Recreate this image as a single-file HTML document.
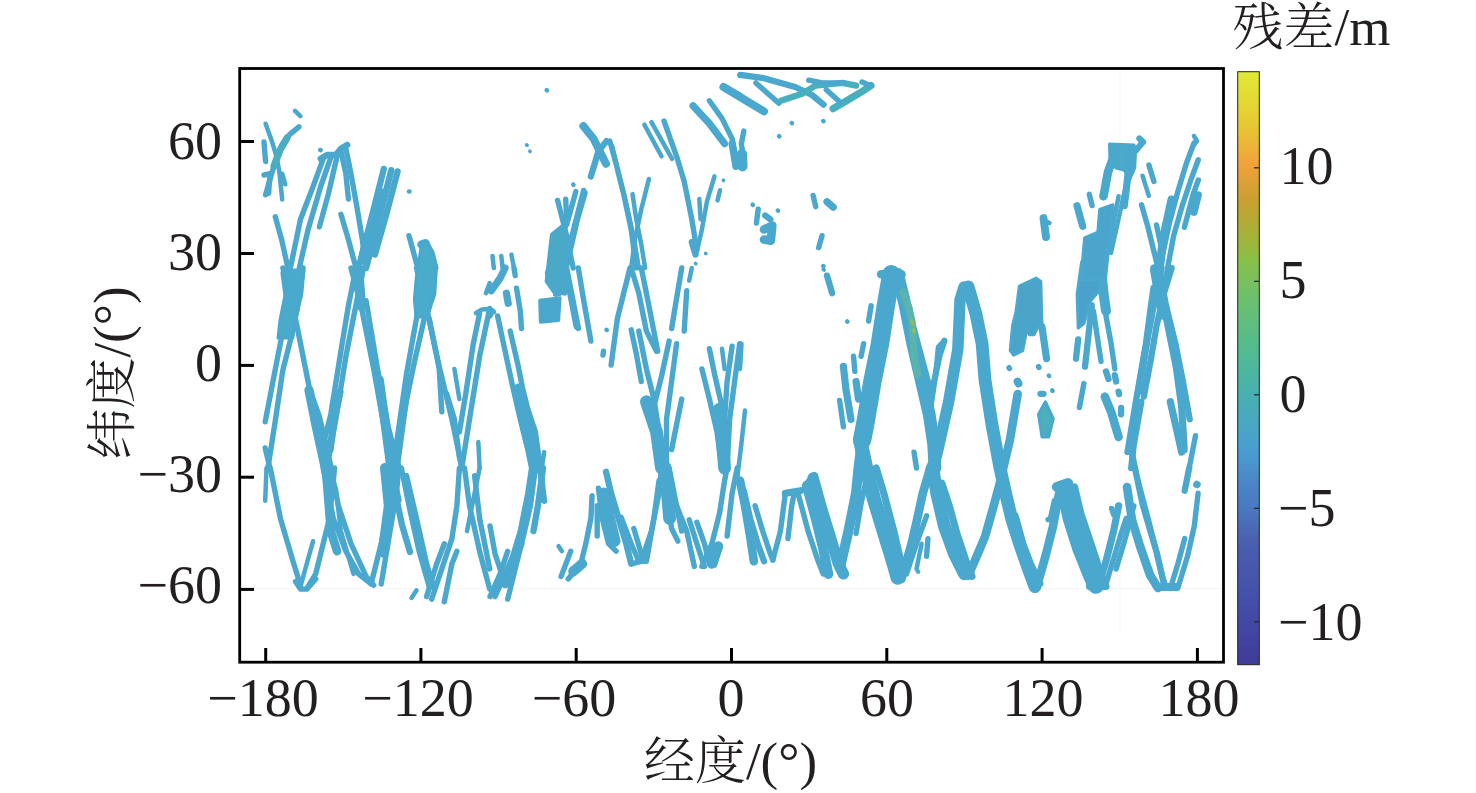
<!DOCTYPE html>
<html><head><meta charset="utf-8">
<style>
html,body{margin:0;padding:0;background:#fff;width:1476px;height:793px;overflow:hidden}
svg{position:absolute;left:0;top:0}
.n{font-family:"Liberation Serif","Noto Serif CJK SC",serif;font-size:54px;fill:#231f20}
.t{font-family:"Liberation Serif","Noto Serif CJK SC",serif;font-size:53px;fill:#231f20}
.k{font-family:"Noto Serif CJK SC",serif;font-size:51px;font-weight:300}
</style></head><body>
<svg width="1476" height="793" viewBox="0 0 1476 793">
<defs>
<linearGradient id="cb" x1="0" y1="1" x2="0" y2="0">
<stop offset="0" stop-color="#3f3c98"/>
<stop offset="0.11" stop-color="#4450a8"/>
<stop offset="0.211" stop-color="#4a60b0"/>
<stop offset="0.262" stop-color="#4a78c0"/>
<stop offset="0.312" stop-color="#4a88c8"/>
<stop offset="0.346" stop-color="#4a98d0"/>
<stop offset="0.371" stop-color="#4aa0d0"/>
<stop offset="0.413" stop-color="#48a8c0"/>
<stop offset="0.455" stop-color="#48b0b0"/>
<stop offset="0.497" stop-color="#4cb8a0"/>
<stop offset="0.548" stop-color="#58bc88"/>
<stop offset="0.615" stop-color="#6cc070"/>
<stop offset="0.683" stop-color="#88c048"/>
<stop offset="0.716" stop-color="#a0b43a"/>
<stop offset="0.784" stop-color="#c8a030"/>
<stop offset="0.843" stop-color="#f0a23c"/>
<stop offset="0.918" stop-color="#e6cc32"/>
<stop offset="1" stop-color="#e0ea35"/>
</linearGradient>
</defs>
<line x1="241" y1="588.5" x2="1222" y2="588.5" stroke="#f3f5f9" stroke-width="1"/>
<line x1="1120" y1="70" x2="1120" y2="632" stroke="#f5f7fa" stroke-width="1"/>
<!-- tracks -->
<g id="tracks" fill="none" stroke="#4aa7cd" stroke-width="6" stroke-linecap="round" stroke-linejoin="round">
<polyline points="290.4,268.0 300.5,219.3 313.1,186.5 323.2,158.8" stroke-width="5.4"/>
<polyline points="299.3,268.0 308.1,229.4 320.7,186.5 330.8,157.5" stroke-width="5.4"/>
<polyline points="319.4,226.9 328.3,194.1 337.1,156.3" stroke-width="5.4"/>
<polyline points="320.7,158.8 327.0,155.0 335.8,155.0 340.9,148.7 347.2,144.9" stroke-width="6.3"/>
<polyline points="340.9,151.2 345.9,173.9 348.4,199.1" stroke-width="5.4"/>
<polyline points="345.9,148.7 351.0,173.9 357.3,209.2 362.3,239.5 366.1,268.0" stroke-width="5.4"/>
<polyline points="340.9,214.3 348.4,239.5 356.0,268.0" stroke-width="5.4"/>
<polyline points="275.3,216.8 281.6,239.5 287.9,268.0" stroke-width="5.4"/>
<polyline points="358.5,268.0 371.1,219.3 383.8,168.9" stroke-width="6.3"/>
<polyline points="366.1,268.0 377.5,224.4 391.3,170.1" stroke-width="6.3"/>
<polyline points="374.9,254.6 386.3,214.3 397.6,171.4" stroke-width="6.3"/>
<polyline points="364.8,254.6 381.2,194.1" stroke-width="11.4"/>
<polyline points="409.0,191.6 409.5,191.6" stroke-width="4.5"/>
<polyline points="409.0,235.7 417.8,268.0" stroke-width="5.4"/>
<polyline points="421.6,244.5 425.4,243.3 434.2,268.0" stroke-width="8.6"/>
<polyline points="320.2,150.0 320.7,150.2" stroke-width="4.5"/>
<polyline points="301.8,268.0 290.4,293.2 277.8,356.3 265.2,421.8" stroke-width="5.4"/>
<polyline points="282.9,268.0 290.4,293.2 298.0,331.1 310.6,394.1 325.8,464.7" stroke-width="5.4"/>
<polyline points="363.6,268.0 354.8,310.9 345.9,356.3 335.8,419.3 327.0,467.2" stroke-width="5.4"/>
<polyline points="356.0,268.0 348.4,305.8 340.9,351.2 330.8,414.3 323.2,444.5" stroke-width="5.4"/>
<polyline points="351.0,268.0 361.1,305.8 373.7,368.9 391.3,467.2" stroke-width="5.4"/>
<polyline points="366.1,300.8 377.5,368.9 388.8,429.4 398.9,467.2" stroke-width="5.4"/>
<polyline points="434.2,268.0 425.4,313.4 414.0,363.8 401.4,424.4 393.8,467.2" stroke-width="5.4"/>
<polyline points="425.4,268.0 416.5,318.4 406.5,373.9 396.4,444.5" stroke-width="5.4"/>
<polyline points="416.5,268.0 426.6,308.4 439.2,366.4 451.9,419.3 461.9,467.2" stroke-width="5.4"/>
<polyline points="429.2,318.4 439.2,368.9 441.8,411.8" stroke-width="5.4"/>
<polyline points="489.7,308.4 479.6,356.3 469.5,419.3 461.9,467.2" stroke-width="5.4"/>
<polyline points="479.6,313.4 473.3,343.7 465.7,394.1 459.4,431.9" stroke-width="5.4"/>
<polyline points="454.4,368.9 459.4,399.1" stroke-width="4.5"/>
<polyline points="446.8,394.1 454.4,419.3 459.4,457.2 461.9,468.0" stroke-width="5.4"/>
<polyline points="478.3,442.0 479.6,468.0" stroke-width="4.5"/>
<polyline points="489.7,283.1 485.9,293.2" stroke-width="4.5"/>
<polyline points="285.4,273.0 291.7,318.4" stroke-width="10.0"/>
<polyline points="358.5,273.0 361.1,305.8" stroke-width="10.0"/>
<polyline points="422.8,273.0 424.1,313.4" stroke-width="10.0"/>
<polyline points="270.3,468.0 280.4,518.4 293.0,561.3 299.3,581.5 300.5,586.5" stroke-width="5.4"/>
<polyline points="266.5,468.0 265.2,500.8" stroke-width="4.5"/>
<polyline points="295.5,581.5 300.5,589.1 306.8,589.1 315.7,579.0" stroke-width="5.4"/>
<polyline points="300.5,586.5 308.1,558.8 313.1,541.1" stroke-width="4.5"/>
<polyline points="308.1,586.5 315.7,573.9 323.2,543.7 329.5,518.4 334.6,468.0" stroke-width="5.4"/>
<polyline points="323.2,468.0 333.3,518.4 345.9,551.2 358.5,573.9 371.1,584.0" stroke-width="5.4"/>
<polyline points="330.8,468.0 338.4,505.8 351.0,543.7 366.1,576.4 373.7,585.3" stroke-width="5.4"/>
<polyline points="335.8,488.2 340.9,531.1 353.5,573.9" stroke-width="4.5"/>
<polyline points="325.8,468.0 330.8,531.1 337.1,551.2" stroke-width="8.6"/>
<polyline points="371.1,584.0 381.2,543.7 388.8,505.8 391.3,468.0" stroke-width="5.4"/>
<polyline points="381.2,584.0 388.8,538.6 396.4,493.2 398.9,468.0" stroke-width="5.4"/>
<polyline points="385.0,468.0 388.8,505.8 383.8,543.7" stroke-width="10.0"/>
<polyline points="401.4,468.0 409.0,505.8 419.1,551.2 429.2,586.5" stroke-width="5.4"/>
<polyline points="406.5,475.6 416.5,518.4 426.6,563.8 434.2,589.1" stroke-width="5.4"/>
<polyline points="426.6,596.6 436.7,563.8 444.3,543.7" stroke-width="5.4"/>
<polyline points="431.7,599.1 441.8,568.9 451.9,538.6 456.9,505.8 459.4,468.0" stroke-width="5.4"/>
<polyline points="444.3,601.7 451.9,563.8 456.9,551.2" stroke-width="5.4"/>
<polyline points="411.5,597.9 416.5,590.3" stroke-width="4.5"/>
<polyline points="464.5,468.0 469.5,505.8 479.6,551.2 489.7,589.1" stroke-width="5.4"/>
<polyline points="474.6,475.6 479.6,518.4 489.7,568.9" stroke-width="5.4"/>
<polyline points="467.0,531.1 474.6,493.2 479.6,468.0" stroke-width="4.5"/>
<polyline points="546.7,90.2 547.0,90.4" stroke-width="4.5"/>
<polyline points="526.6,144.9 527.1,145.2" stroke-width="3.6"/>
<polyline points="529.8,151.2 530.1,151.5" stroke-width="3.6"/>
<polyline points="583.3,126.0 593.4,138.6 601.0,153.8 606.0,163.8" stroke-width="7.9"/>
<polyline points="606.5,141.1 598.4,151.2 590.9,176.4" stroke-width="6.3"/>
<polyline points="609.8,141.1 616.1,163.8 623.7,194.1 631.2,229.4 636.3,268.0" stroke-width="5.4"/>
<polyline points="612.3,146.2 618.6,173.9 627.5,209.2 635.0,244.5 638.8,268.0" stroke-width="4.5"/>
<polyline points="648.9,179.0 641.3,209.2 635.0,239.5 631.2,268.0" stroke-width="4.5"/>
<polyline points="632.5,194.1 636.3,219.3 641.3,244.5 645.1,268.0" stroke-width="4.5"/>
<polyline points="644.4,124.7 661.5,156.3" stroke-width="4.5"/>
<polyline points="651.4,122.2 672.1,158.8" stroke-width="4.5"/>
<polyline points="664.0,121.0 676.6,156.3 684.2,181.5 691.8,219.3 696.8,249.6" stroke-width="5.4"/>
<polyline points="693.0,105.8 709.4,123.5 724.6,143.7" stroke-width="7.2"/>
<polyline points="709.4,100.8 722.0,118.4 732.1,138.6 737.2,163.8" stroke-width="5.4"/>
<polyline points="724.6,86.9 739.9,95.7" stroke-width="6.3"/>
<polyline points="714.5,176.4 706.9,201.7 701.9,229.4 696.8,252.1" stroke-width="4.5"/>
<polyline points="699.3,199.1 700.6,219.3" stroke-width="4.5"/>
<polyline points="720.0,190.3 717.5,200.4" stroke-width="4.5"/>
<polyline points="723.3,180.2 723.5,180.5" stroke-width="3.6"/>
<polyline points="691.8,242.0 695.5,254.6" stroke-width="6.3"/>
<polyline points="695.5,263.5 695.8,263.7" stroke-width="3.6"/>
<polyline points="705.6,253.4 705.9,253.6" stroke-width="3.6"/>
<polyline points="557.6,200.4 565.7,231.9 573.2,268.0" stroke-width="5.4"/>
<polyline points="584.6,192.8 577.0,219.3 565.7,268.0" stroke-width="6.3"/>
<polyline points="575.8,191.6 568.2,219.3 558.1,244.5 553.1,268.0" stroke-width="5.4"/>
<polyline points="565.7,199.1 566.9,224.4" stroke-width="5.4"/>
<polyline points="573.2,184.5 573.5,184.8" stroke-width="4.5"/>
<polyline points="492.5,255.9 493.8,268.0" stroke-width="4.5"/>
<polyline points="501.3,255.9 502.6,268.0" stroke-width="4.5"/>
<polyline points="511.4,254.6 514.0,268.0" stroke-width="4.5"/>
<polyline points="739.2,76.1 739.4,76.3" stroke-width="3.6"/>
<polyline points="732.1,143.7 735.9,166.4" stroke-width="7.2"/>
<polyline points="491.3,290.7 500.1,278.1 505.1,268.0" stroke-width="7.2"/>
<polyline points="514.0,268.0 515.2,275.6" stroke-width="5.4"/>
<polyline points="516.5,288.2 520.3,310.9 521.5,328.5" stroke-width="5.4"/>
<polyline points="506.4,293.2 508.2,303.3" stroke-width="7.2"/>
<polyline points="490.0,315.9 492.5,310.9" stroke-width="5.4"/>
<polyline points="497.6,315.9 505.1,351.2 512.7,386.5 520.3,419.3 527.8,449.6 531.6,468.0" stroke-width="5.4"/>
<polyline points="510.2,331.1 517.7,363.8 522.8,389.1 527.8,409.2 535.4,431.9 540.4,468.0" stroke-width="5.4"/>
<polyline points="519.0,389.1 525.3,419.3 532.9,449.6 535.4,468.0" stroke-width="11.4"/>
<polyline points="544.2,452.1 541.7,468.0" stroke-width="4.5"/>
<polyline points="550.5,273.0 558.1,290.7" stroke-width="11.4"/>
<polygon points="539.7,300.3 560.1,297.8 558.6,320.5 540.4,322.2" stroke-width="3" fill="#4aa7cd"/>
<polyline points="565.7,268.0 570.7,293.2 577.0,326.0" stroke-width="7.2"/>
<polyline points="578.3,268.0 583.3,298.3 590.9,341.1" stroke-width="5.4"/>
<polyline points="573.2,308.4 578.3,328.5" stroke-width="5.4"/>
<polyline points="630.0,268.0 623.7,293.2 617.4,318.4 611.1,365.1" stroke-width="5.4"/>
<polyline points="606.5,329.8 606.8,330.0" stroke-width="4.5"/>
<polyline points="603.5,351.2 603.0,355.0" stroke-width="5.4"/>
<polyline points="631.2,268.0 638.8,293.2 646.4,331.1 656.5,351.2" stroke-width="5.4"/>
<polyline points="641.3,268.0 648.9,305.8 657.7,351.2" stroke-width="5.4"/>
<polyline points="631.2,329.8 636.3,353.8 641.3,381.5" stroke-width="5.4"/>
<polyline points="638.8,331.1 646.4,368.9 653.9,399.1 659.0,431.9 664.0,468.0" stroke-width="5.4"/>
<polyline points="646.4,401.7 656.5,431.9 661.5,468.0" stroke-width="12.8"/>
<polyline points="681.7,268.0 676.6,298.3 671.6,328.5" stroke-width="5.4"/>
<polyline points="691.8,268.0 689.2,280.6" stroke-width="4.5"/>
<polyline points="686.7,290.7 684.2,331.1" stroke-width="5.4"/>
<polyline points="669.1,341.1 661.5,376.4 653.9,406.7" stroke-width="5.4"/>
<polyline points="681.7,399.1 676.6,424.4 671.6,449.6" stroke-width="5.4"/>
<polyline points="676.6,343.7 671.6,381.5 666.5,419.3 666.5,468.0" stroke-width="5.4"/>
<polyline points="701.9,368.9 709.4,399.1 717.0,431.9 722.0,468.0" stroke-width="5.4"/>
<polyline points="709.4,348.7 714.5,373.9 722.0,406.7" stroke-width="5.4"/>
<polyline points="722.0,348.7 724.6,368.9" stroke-width="4.5"/>
<polyline points="732.1,346.2 727.1,381.5 724.6,419.3" stroke-width="5.4"/>
<polyline points="739.7,343.7 734.6,381.5 729.6,419.3 727.1,468.0" stroke-width="5.4"/>
<polyline points="719.5,409.2 724.6,468.0" stroke-width="12.8"/>
<polyline points="490.0,526.0 495.0,553.8 500.1,568.9 503.9,584.0" stroke-width="5.4"/>
<polyline points="490.0,596.6 500.1,573.9 507.7,551.2" stroke-width="5.4"/>
<polyline points="495.0,596.6 505.1,573.9 512.7,556.3 520.3,531.1 527.8,493.2 531.6,468.0" stroke-width="5.4"/>
<polyline points="507.7,599.1 515.2,568.9 522.8,538.6 530.4,505.8 535.4,468.0" stroke-width="5.4"/>
<polyline points="505.1,584.0 515.2,556.3 520.3,543.7" stroke-width="8.6"/>
<polyline points="540.4,468.0 543.0,493.2 544.2,500.8" stroke-width="6.3"/>
<polyline points="533.4,531.1 537.9,505.8 543.0,468.0" stroke-width="6.3"/>
<polyline points="558.6,546.2 561.9,551.2" stroke-width="4.5"/>
<polyline points="561.1,576.4 570.7,551.2" stroke-width="5.4"/>
<polyline points="568.2,579.0 580.8,563.8 585.8,543.7 590.9,518.4 592.1,495.7" stroke-width="5.4"/>
<polyline points="573.2,571.4 582.1,563.8" stroke-width="10.0"/>
<polyline points="606.0,471.8 611.1,493.2 618.6,518.4 626.2,543.7 631.2,563.8" stroke-width="6.3"/>
<polyline points="598.4,488.2 602.2,518.4 608.5,543.7 616.1,551.2" stroke-width="5.4"/>
<polyline points="597.2,505.8 597.2,536.1" stroke-width="5.4"/>
<polyline points="621.1,517.2 631.2,543.7 638.8,561.3" stroke-width="5.4"/>
<polyline points="633.8,528.5 641.3,553.8 643.8,561.3" stroke-width="5.4"/>
<polyline points="603.5,493.2 614.8,541.1" stroke-width="11.4"/>
<polyline points="631.2,563.8 641.3,561.3 651.4,531.1 659.0,493.2 661.5,468.0" stroke-width="5.4"/>
<polyline points="646.4,561.3 653.9,518.4 659.0,480.6" stroke-width="5.4"/>
<polyline points="661.5,468.0 666.5,493.2 671.6,528.5 677.9,541.1" stroke-width="5.4"/>
<polyline points="669.1,468.0 674.1,493.2 681.7,531.1" stroke-width="5.4"/>
<polyline points="665.3,468.0 669.6,518.4" stroke-width="12.8"/>
<polyline points="676.6,505.8 686.7,531.1 694.3,566.4" stroke-width="5.4"/>
<polyline points="689.2,519.7 699.3,551.2 704.4,566.4" stroke-width="5.4"/>
<polyline points="696.8,522.2 704.4,543.7 709.4,563.8" stroke-width="5.4"/>
<polyline points="701.9,566.4 711.9,543.7 719.5,513.4 724.6,480.6 727.1,468.0" stroke-width="5.4"/>
<polyline points="714.5,565.1 719.5,548.7" stroke-width="5.4"/>
<polyline points="727.1,536.1 732.1,493.2 737.2,468.0" stroke-width="5.4"/>
<polyline points="711.9,563.8 718.2,546.2" stroke-width="10.0"/>
<polyline points="791.7,123.0 792.0,123.2" stroke-width="4.5"/>
<polyline points="823.2,121.0 823.5,121.2" stroke-width="4.5"/>
<polyline points="779.1,136.1 779.3,136.3" stroke-width="4.5"/>
<polyline points="743.8,131.1 741.3,143.7 742.5,151.2" stroke-width="5.4"/>
<polyline points="742.0,153.8 742.5,166.4" stroke-width="10.0"/>
<polyline points="752.6,204.7 752.9,204.9" stroke-width="4.5"/>
<polyline points="777.8,210.5 778.1,210.7" stroke-width="4.5"/>
<polyline points="758.2,209.2 756.4,223.1" stroke-width="5.4"/>
<polyline points="765.2,215.5 770.3,219.3" stroke-width="6.3"/>
<polyline points="764.0,229.4 772.3,225.6 770.8,240.8 764.0,239.5" stroke-width="8.6"/>
<polyline points="813.1,195.4 815.7,206.7" stroke-width="5.4"/>
<polyline points="827.0,201.7 833.3,207.2" stroke-width="7.2"/>
<polyline points="822.0,235.7 818.7,247.6" stroke-width="5.4"/>
<polyline points="823.2,266.0 823.5,266.2" stroke-width="4.5"/>
<polyline points="823.2,269.3 824.2,270.0" stroke-width="3.6"/>
<polyline points="827.0,275.6 832.1,293.2" stroke-width="6.3"/>
<polyline points="847.2,321.5 847.4,321.7" stroke-width="4.5"/>
<polyline points="741.5,343.7 740.0,368.9" stroke-width="4.5"/>
<polyline points="745.0,410.5 741.3,444.5 737.0,479.9" stroke-width="4.5"/>
<polyline points="862.1,440.0 866.1,419.3 872.4,381.5 880.0,343.7 885.8,305.8 891.3,274.3" stroke-width="18.4"/>
<polyline points="881.2,274.3 901.4,274.3" stroke-width="8.6"/>
<polyline points="897.6,274.3 905.2,305.8 912.8,343.7 921.6,381.5 929.2,414.3 933.7,444.5 935.0,468.0" stroke-width="12.8"/>
<polyline points="901.4,280.6 911.5,318.4 921.6,356.3 931.7,394.1" stroke-width="5.4"/>
<polyline points="871.1,305.8 868.6,321.0" stroke-width="5.4"/>
<polyline points="863.6,343.7 861.1,356.3" stroke-width="5.4"/>
<polyline points="853.5,356.3 854.8,371.4" stroke-width="5.4"/>
<polyline points="843.4,366.4 845.9,389.1 851.0,419.3" stroke-width="7.2"/>
<polyline points="839.6,400.4 843.4,426.9" stroke-width="5.4"/>
<polyline points="856.0,381.5 858.5,399.1" stroke-width="7.2"/>
<polyline points="944.3,341.1 939.2,356.3 934.2,381.5 929.2,401.7" stroke-width="6.3"/>
<polyline points="914.0,452.1 916.5,468.0" stroke-width="5.4"/>
<polyline points="740.0,480.6 745.0,505.8 750.1,536.1 753.9,561.3" stroke-width="8.6"/>
<polyline points="743.8,490.7 750.1,518.4 757.7,543.7 764.0,561.3" stroke-width="6.3"/>
<polyline points="755.1,505.8 762.7,531.1 770.3,553.8 772.8,560.1" stroke-width="5.4"/>
<polyline points="772.8,560.1 780.4,531.1 785.4,493.2" stroke-width="5.4"/>
<polyline points="787.9,538.6 791.7,505.8 794.2,493.2" stroke-width="5.4"/>
<polyline points="785.4,493.2 800.5,490.7" stroke-width="7.2"/>
<polyline points="808.1,483.1 814.4,475.6" stroke-width="7.2"/>
<polyline points="806.8,485.7 815.7,518.4 823.2,548.7 828.3,573.9" stroke-width="10.0"/>
<polyline points="813.1,478.1 820.7,505.8 830.8,538.6 838.4,563.8 843.4,573.9" stroke-width="11.4"/>
<polyline points="798.0,493.2 808.1,531.1 818.2,561.3 823.2,573.9" stroke-width="5.4"/>
<polyline points="840.9,563.8 848.4,531.1 856.0,493.2 858.5,468.0 862.1,440.0" stroke-width="10.0"/>
<polyline points="856.0,533.6 861.1,503.3 866.1,480.6" stroke-width="5.4"/>
<polyline points="860.1,440.0 866.1,468.0 873.7,498.3 883.8,531.1 893.8,563.8 897.6,577.7" stroke-width="14.2"/>
<polyline points="876.2,468.0 883.8,493.2 893.8,531.1 901.4,563.8" stroke-width="7.2"/>
<polyline points="901.4,579.0 911.5,543.7 917.0,520.0 922.8,493.2 930.2,468.0" stroke-width="8.6"/>
<polyline points="906.5,573.9 916.5,543.7 926.6,515.9" stroke-width="5.4"/>
<polyline points="916.5,568.9 921.6,543.7" stroke-width="4.5"/>
<polyline points="926.6,556.3 927.9,538.6" stroke-width="5.4"/>
<polyline points="932.9,468.0 936.7,493.2 944.3,526.0 954.4,553.8 964.5,573.9" stroke-width="12.8"/>
<polyline points="941.8,483.1 949.3,505.8 956.9,533.6 967.0,563.8 972.0,576.4" stroke-width="7.2"/>
<polyline points="917.8,571.4 918.1,571.7" stroke-width="4.5"/>
<polyline points="1043.5,218.1 1046.0,237.0" stroke-width="7.9"/>
<polyline points="1048.5,222.4 1049.5,222.9" stroke-width="4.5"/>
<polyline points="1148.9,165.1 1153.9,181.5" stroke-width="5.4"/>
<polyline points="1101.0,268.0 1103.5,293.2 1106.0,310.9" stroke-width="10.0"/>
<polyline points="1093.4,310.9 1097.2,336.1 1101.0,361.3" stroke-width="5.4"/>
<polyline points="1106.0,315.9 1111.1,343.7 1114.8,368.9" stroke-width="5.4"/>
<polyline points="1106.0,371.4 1108.5,379.0" stroke-width="6.3"/>
<polyline points="1114.8,375.2 1116.1,381.5" stroke-width="6.3"/>
<polyline points="1118.6,391.6 1119.1,394.1" stroke-width="6.3"/>
<polyline points="1121.1,408.0 1121.1,414.3" stroke-width="6.3"/>
<polyline points="1104.8,396.6 1111.1,411.8 1118.6,437.0" stroke-width="8.6"/>
<polyline points="1127.5,452.1 1136.3,399.1 1143.8,356.3 1151.4,318.4 1156.5,288.2 1161.5,268.0" stroke-width="6.3"/>
<polyline points="1141.3,401.7 1133.8,444.5 1131.2,468.0" stroke-width="6.3"/>
<polyline points="1143.8,396.6 1151.4,356.3 1156.5,326.0 1164.0,293.2 1171.6,268.0" stroke-width="6.3"/>
<polyline points="1138.8,391.6 1146.4,343.7 1151.4,305.8 1153.9,288.2" stroke-width="7.2"/>
<polyline points="1153.9,268.0 1161.5,293.2 1169.1,331.1 1176.6,368.9 1181.7,406.7 1184.2,449.6" stroke-width="7.2"/>
<polyline points="1166.0,305.8 1175.4,343.7 1182.9,381.5 1189.7,419.3" stroke-width="6.3"/>
<polyline points="1156.5,270.5 1164.0,313.4" stroke-width="12.8"/>
<polyline points="1170.3,401.7 1176.6,429.4 1181.7,452.1" stroke-width="7.2"/>
<polyline points="1195.5,435.7 1189.2,468.0" stroke-width="5.4"/>
<polyline points="1015.2,515.9 1022.8,543.7 1030.4,563.8 1037.9,579.0" stroke-width="7.2"/>
<polyline points="1037.9,582.8 1045.5,556.3 1053.1,526.0 1058.1,498.3 1060.6,485.7" stroke-width="8.6"/>
<polyline points="1050.5,518.4 1054.3,500.8" stroke-width="5.4"/>
<polyline points="1048.0,519.7 1053.1,518.4" stroke-width="5.4"/>
<polyline points="1056.8,486.9 1068.2,483.1" stroke-width="10.0"/>
<polyline points="1064.4,488.2 1071.2,518.4 1080.8,548.7 1090.9,573.9 1095.9,585.3" stroke-width="17.0"/>
<polyline points="1074.5,486.9 1080.8,513.4 1090.9,543.7 1101.0,573.9 1106.0,586.5" stroke-width="7.2"/>
<polyline points="1098.4,586.5 1106.0,561.3 1113.6,531.1 1118.6,505.8" stroke-width="7.2"/>
<polyline points="1106.0,584.0 1113.6,558.8 1121.1,533.6 1126.2,518.4" stroke-width="5.4"/>
<polyline points="1111.6,508.4 1113.6,514.7" stroke-width="5.4"/>
<polyline points="1116.1,568.9 1123.7,543.7 1128.7,526.0 1133.8,505.8" stroke-width="5.4"/>
<polyline points="1170.3,588.6 1177.9,563.8 1184.7,538.6" stroke-width="5.4"/>
<polyline points="1177.9,587.8 1187.5,556.3 1194.3,526.0 1198.1,493.2" stroke-width="5.4"/>
<polyline points="1184.7,490.7 1189.2,468.0" stroke-width="6.3"/>
<polyline points="1196.8,484.4 1197.1,484.6" stroke-width="7.2"/>
<polyline points="1161.5,587.0 1176.6,587.0" stroke-width="7.9"/>
<polyline points="1033.4,583.5 1039.9,583.5" stroke-width="7.2"/>
<polyline points="1089.6,586.5 1104.8,586.5" stroke-width="7.2"/>
<polyline points="1194.0,136.0 1197.0,141.0 1194.0,145.0" stroke-width="4.5"/>
<polyline points="1194.0,143.0 1186.5,163.0 1178.0,191.0 1169.4,223.0 1163.0,253.0 1158.6,290.0" stroke-width="5.4"/>
<polyline points="1198.3,159.7 1190.8,180.0 1182.2,205.8 1173.6,235.9 1167.2,270.2 1164.0,290.0" stroke-width="5.4"/>
<polyline points="1198.3,180.0 1193.0,195.0 1184.4,227.3" stroke-width="5.4"/>
<polyline points="1198.3,195.0 1194.0,212.3" stroke-width="7.2"/>
<polyline points="1171.5,199.4 1163.0,238.0 1156.5,290.0" stroke-width="7.9"/>
<polyline points="1141.5,204.8 1148.0,227.3 1154.3,253.0 1158.6,270.2" stroke-width="5.4"/>
<polyline points="1156.5,225.0 1159.7,240.0 1163.0,253.0" stroke-width="5.4"/>
<polyline points="265.6,123.7 271.6,140.4 276.2,155.5 279.2,170.6 282.2,199.4" stroke-width="4.5"/>
<polyline points="298.9,126.8 289.8,134.3 282.2,144.9 276.2,160.0 271.6,173.7 265.6,194.8" stroke-width="5.4"/>
<polyline points="287.0,138.0 280.0,150.0 274.0,166.0" stroke-width="7.2" stroke="#4aaec0"/>
<polyline points="264.0,142.0 265.6,161.6" stroke-width="5.4"/>
<polyline points="264.0,175.0 270.0,173.7 268.6,193.3" stroke-width="5.4"/>
<polyline points="282.2,173.7 285.3,184.3" stroke-width="4.5"/>
<polyline points="295.0,110.9 300.4,116.2" stroke-width="4.5"/>
<polyline points="723.4,87.0 764.0,111.4" stroke-width="7.9"/>
<polyline points="740.3,74.8 764.0,78.2 795.2,87.0 812.0,95.0 823.6,104.6" stroke-width="6.3"/>
<polyline points="755.9,82.9 778.9,103.2" stroke-width="5.4"/>
<polyline points="781.6,100.5 802.0,93.7 815.5,85.6 842.6,82.9 856.2,85.6" stroke-width="6.3" stroke="#48b0bc"/>
<polyline points="808.7,80.2 822.3,82.9 844.0,82.9" stroke-width="5.4"/>
<polyline points="833.1,108.7 849.4,99.2 862.9,91.0 871.0,85.6" stroke-width="7.2" stroke="#48b0bc"/>
<polyline points="862.0,82.0 871.0,86.0" stroke-width="5.4"/>
<polyline points="826.3,89.7 839.9,101.9" stroke-width="5.4"/>
<polygon points="551.4,234.3 562.1,225.7 567.5,240.7 565.4,294.3 553.6,292.1 546.1,281.4" stroke-width="3" fill="#4aaac6"/>
<polyline points="583.6,190.4 573.0,232.0 564.0,262.0 555.7,294.3" stroke-width="5.4"/>
<polyline points="1131.6,452.0 1142.7,504.7 1156.5,551.8 1164.8,587.9" stroke-width="6.3"/>
<polyline points="1137.0,477.0 1148.0,518.0 1162.0,574.0 1166.0,588.0" stroke-width="5.4"/>
<polyline points="1127.0,487.0 1132.0,520.0 1140.0,546.0 1150.0,575.0 1158.0,588.0" stroke-width="8.6"/>
<polygon points="1019.3,286.1 1036.3,278.1 1040.8,281.5 1042.0,323.5 1037.4,328.0 1034.0,334.8 1029.5,334.8 1027.2,328.0 1022.7,350.7 1013.6,355.2 1010.2,350.7 1012.5,325.8 1015.9,312.2" stroke-width="3" fill="#4aa4c8"/>
<polyline points="1042.0,326.9 1046.5,358.6" stroke-width="7.2"/>
<polyline points="1009.0,367.7 1009.5,368.5" stroke-width="5.4"/>
<polyline points="1017.5,381.5 1018.5,383.5" stroke-width="7.9"/>
<polyline points="1038.5,366.6 1039.0,367.5" stroke-width="5.4"/>
<polyline points="1048.8,375.6 1049.2,376.0" stroke-width="4.5"/>
<polyline points="1052.2,390.4 1052.6,391.0" stroke-width="4.5"/>
<polyline points="1040.5,393.8 1043.5,393.8" stroke-width="6.3"/>
<polygon points="1038.5,414.2 1045.4,401.7 1053.3,418.7 1048.8,436.9 1042.0,436.9" stroke-width="3" fill="#4cb0bc"/>
<polygon points="1081.6,262.0 1100.0,262.0 1100.0,289.5 1090.7,300.8 1083.9,323.5 1078.2,328.0 1077.1,294.0" stroke-width="3" fill="#4aa2cc"/>
<polyline points="1078.2,339.4 1076.0,358.6" stroke-width="6.3"/>
<polyline points="1091.8,305.4 1085.0,366.6" stroke-width="6.3"/>
<polyline points="1083.9,383.6 1079.4,407.4" stroke-width="5.4"/>
<polygon points="1109.5,144.0 1134.0,145.0 1135.6,150.8 1134.7,167.8 1130.0,179.0 1124.0,170.0 1116.0,168.0 1110.0,160.0" stroke-width="3" fill="#4aaac8"/>
<polyline points="1139.4,138.5 1143.0,142.0 1135.6,150.8" stroke-width="6.3"/>
<polyline points="1116.0,150.0 1108.0,172.0 1103.5,196.2" stroke-width="8.6"/>
<polyline points="1130.0,150.0 1128.0,175.0 1124.3,205.6" stroke-width="7.2"/>
<polyline points="1142.5,175.7 1148.8,195.8" stroke-width="4.5"/>
<polygon points="1080.8,280.0 1084.6,237.8 1097.8,232.1 1099.7,209.4 1112.9,204.7 1109.1,243.4 1105.4,280.0" stroke-width="3" fill="#4aa4cc"/>
<polyline points="1118.6,196.2 1105.4,262.3" stroke-width="4.5"/>
<polyline points="1124.3,192.4 1111.0,252.9" stroke-width="4.5"/>
<polyline points="1089.3,194.3 1092.1,205.6" stroke-width="5.4"/>
<polyline points="1077.0,205.6 1082.7,226.4" stroke-width="7.2"/>
<polyline points="964.0,287.0 960.0,300.0 957.8,349.5 948.5,402.5 936.6,455.4 931.0,470.0" stroke-width="11.4"/>
<polyline points="944.6,340.0 938.0,346.8 934.0,389.0 930.0,415.7" stroke-width="4.5"/>
<polyline points="476.0,313.0 482.0,309.5 489.0,309.0 494.0,312.0" stroke-width="4.5"/>
<polyline points="903.0,292.0 909.0,308.0 912.0,322.0 913.0,340.0 914.0,355.0 918.0,375.0" stroke-width="7.2" stroke="#58b4ac"/>
<polyline points="912.0,321.0 913.0,324.0" stroke-width="3.6" stroke="#90bc60"/>
<polyline points="913.5,330.0 914.0,332.0" stroke-width="3.6" stroke="#90bc60"/>
<polyline points="303.0,268.0 297.0,310.0 290.3,340.6 282.7,370.9 275.2,421.3 267.6,470.0" stroke-width="5.4"/>
<polyline points="313.0,398.6 319.3,416.3 325.0,440.0 331.0,467.0" stroke-width="5.4"/>
<polygon points="286.0,270.0 304.0,270.0 301.7,295.0 295.4,320.0 292.8,338.0 278.0,338.0 280.0,320.0 285.0,295.0" stroke-width="3" fill="#4aaacb"/>
<polygon points="421.5,243.9 427.7,243.0 433.0,251.8 436.5,266.0 434.8,294.2 431.2,304.8 427.7,317.0 416.0,317.0 414.4,299.5 416.2,278.3 419.8,255.3" stroke-width="3" fill="#4aaccb"/>
<polyline points="309.0,390.0 316.0,425.0 324.0,462.0 328.0,480.0" stroke-width="9.3"/>
<polyline points="340.0,392.0 334.0,420.0 330.0,450.0" stroke-width="7.2"/>
<polyline points="379.3,380.0 386.0,430.0 393.0,482.3 397.0,500.0" stroke-width="9.3"/>
<polyline points="393.0,482.3 402.0,525.0 410.0,552.0" stroke-width="6.3"/>
<polyline points="407.7,382.0 401.0,430.0 394.0,482.3 390.0,505.0" stroke-width="7.9"/>
<polyline points="394.0,482.3 388.0,525.0 383.0,555.0" stroke-width="5.4"/>
<polyline points="265.2,448.0 268.0,460.0 270.3,470.0" stroke-width="5.4"/>
<polyline points="968.2,286.9 975.8,313.4 982.1,343.7 985.0,380.0 992.0,425.0 1000.0,468.0 1006.0,495.0 1012.0,520.0 1020.0,545.0 1028.0,568.0 1035.0,586.7" stroke-width="12.8"/>
<polyline points="1017.7,394.0 1010.0,439.4 1004.0,465.0 998.9,486.7 992.0,512.0 985.0,536.7 976.0,558.0 968.3,575.6" stroke-width="8.6"/>
</g>
<!-- axes -->
<rect x="239.7" y="68.5" width="983.8" height="593.7" fill="none" stroke="#000" stroke-width="2.8"/>
<g stroke="#000" stroke-width="3">
<line x1="265.7" y1="661" x2="265.7" y2="648"/>
<line x1="420.9" y1="661" x2="420.9" y2="648"/>
<line x1="576.2" y1="661" x2="576.2" y2="648"/>
<line x1="731.5" y1="661" x2="731.5" y2="648"/>
<line x1="886.8" y1="661" x2="886.8" y2="648"/>
<line x1="1042.1" y1="661" x2="1042.1" y2="648"/>
<line x1="1197.4" y1="661" x2="1197.4" y2="648"/>
<line x1="241" y1="141.5" x2="254" y2="141.5"/>
<line x1="241" y1="253.5" x2="254" y2="253.5"/>
<line x1="241" y1="365.4" x2="254" y2="365.4"/>
<line x1="241" y1="477.2" x2="254" y2="477.2"/>
<line x1="241" y1="589.4" x2="254" y2="589.4"/>
</g>
<!-- colorbar -->
<rect x="1237.7" y="71.7" width="21.6" height="593" fill="url(#cb)" stroke="#222" stroke-width="1"/>
<g stroke="#222" stroke-width="1.2">
<line x1="1254" y1="167.8" x2="1259" y2="167.8"/>
<line x1="1254" y1="281.3" x2="1259" y2="281.3"/>
<line x1="1254" y1="394.8" x2="1259" y2="394.8"/>
<line x1="1254" y1="508.3" x2="1259" y2="508.3"/>
<line x1="1254" y1="621.8" x2="1259" y2="621.8"/>
</g>
<!-- tick labels -->
<g class="n" text-anchor="middle">
<text x="263" y="716">−180</text>
<text x="418" y="716">−120</text>
<text x="574" y="716">−60</text>
<text x="731" y="716">0</text>
<text x="887" y="716">60</text>
<text x="1043" y="716">120</text>
<text x="1199" y="716">180</text>
</g>
<g class="n" text-anchor="end">
<text x="222" y="159">60</text>
<text x="222" y="270">30</text>
<text x="222" y="381">0</text>
<text x="222" y="492">−30</text>
<text x="222" y="603">−60</text>
</g>
<g class="n" text-anchor="start">
<text x="1279.5" y="184">10</text>
<text x="1279.5" y="298">5</text>
<text x="1279.5" y="412">0</text>
<text x="1278" y="526">−5</text>
<text x="1278" y="640">−10</text>
</g>
<text class="t" x="730.5" y="778.5" text-anchor="middle"><tspan class="k">经度</tspan>/(°)</text>
<text class="t" x="0" y="0" text-anchor="middle" transform="translate(129.5,373) rotate(-90)"><tspan class="k">纬度</tspan>/(°)</text>
<text class="t" x="1232.5" y="45"><tspan class="k">残差</tspan>/m</text>
</svg>
</body></html>
